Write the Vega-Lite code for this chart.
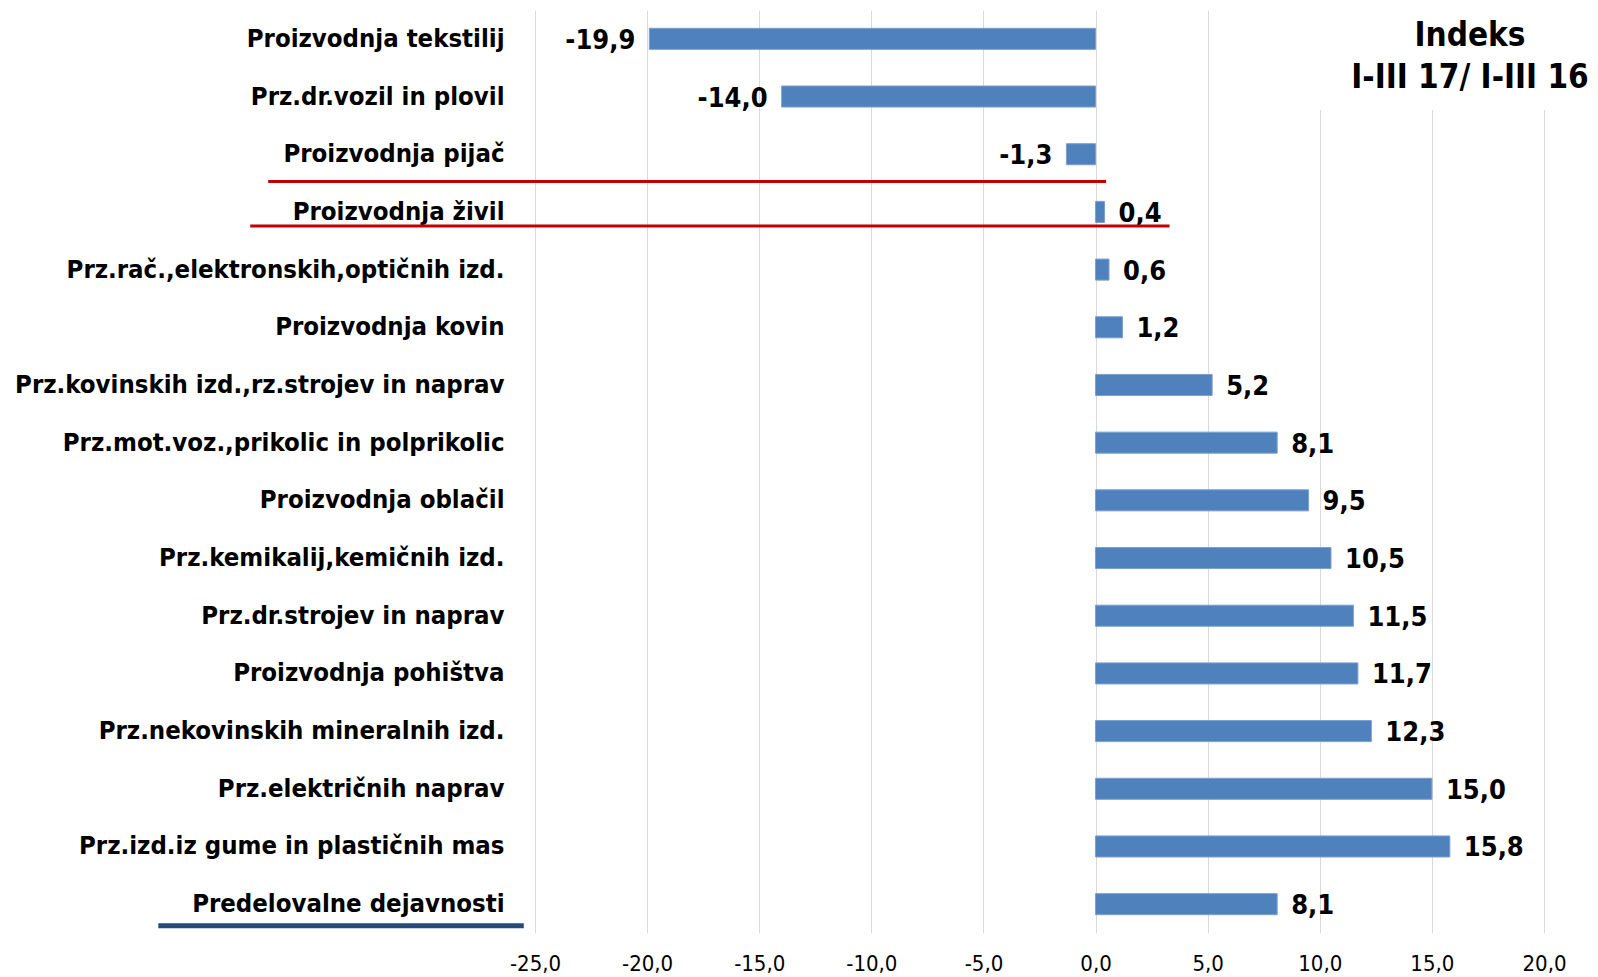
{
  "$schema": "https://vega.github.io/schema/vega-lite/v6.json",
  "width": 1009,
  "height": 923,
  "autosize": {"type": "none"},
  "padding": {"left": 535, "top": 10, "right": 54, "bottom": 44},
  "background": "white",
  "config": {
    "view": {"stroke": null},
    "font": "Liberation Sans Narrow, DejaVu Sans Condensed, Liberation Sans",
    "locale": {"number": {"decimal": ",", "thousands": ".", "grouping": [3], "currency": ["", " €"], "minus": "-"}}
  },
  "datasets": {
    "bars": [
      {"cat": "Proizvodnja tekstilij", "value": -19.9},
      {"cat": "Prz.dr.vozil in plovil", "value": -14.0},
      {"cat": "Proizvodnja pijač", "value": -1.3},
      {"cat": "Proizvodnja živil", "value": 0.4},
      {"cat": "Prz.rač.,elektronskih,optičnih izd.", "value": 0.6},
      {"cat": "Proizvodnja kovin", "value": 1.2},
      {"cat": "Prz.kovinskih izd.,rz.strojev in naprav", "value": 5.2},
      {"cat": "Prz.mot.voz.,prikolic in polprikolic", "value": 8.1},
      {"cat": "Proizvodnja oblačil", "value": 9.5},
      {"cat": "Prz.kemikalij,kemičnih izd.", "value": 10.5},
      {"cat": "Prz.dr.strojev in naprav", "value": 11.5},
      {"cat": "Proizvodnja pohištva", "value": 11.7},
      {"cat": "Prz.nekovinskih mineralnih izd.", "value": 12.3},
      {"cat": "Prz.električnih naprav", "value": 15.0},
      {"cat": "Prz.izd.iz gume in plastičnih mas", "value": 15.8},
      {"cat": "Predelovalne dejavnosti", "value": 8.1}
    ]
  },
  "layer": [
    {
      "data": {"name": "bars"},
      "mark": {"type": "bar", "color": "#4f81bd", "stroke": "#7a9fd0", "strokeWidth": 1},
      "encoding": {
        "y": {
          "field": "cat", "type": "nominal", "sort": null,
          "scale": {"paddingInner": 0.635, "paddingOuter": 0.3175},
          "axis": {"title": null, "domain": false, "ticks": false, "grid": false,
                   "labelFontSize": 25.5, "labelFontWeight": "bold", "labelColor": "#000000",
                   "labelPadding": 31, "labelLimit": 0, "labelFont": "Liberation Sans Narrow, DejaVu Sans Condensed, Liberation Sans"}
        },
        "x": {
          "field": "value", "type": "quantitative",
          "scale": {"domain": [-25, 20], "nice": false, "zero": false},
          "axis": {"title": null, "domain": false, "ticks": false, "grid": true,
                   "gridColor": "#d9d9d9", "gridWidth": 1, "values": [-25, -20, -15, -10, -5, 0, 5, 10, 15, 20],
                   "format": ".1f", "labelFontSize": 22, "labelColor": "#000000", "labelPadding": 20, "labelFlush": false,
                   "labelFont": "Liberation Sans Narrow, DejaVu Sans Condensed, Liberation Sans"}
        }
      }
    },
    {
      "data": {"name": "bars"},
      "transform": [{"filter": "datum.value >= 0"}],
      "mark": {"type": "text", "align": "left", "baseline": "middle", "dx": 14, "dy": 2, "fontSize": 27, "fontWeight": "bold", "color": "#000000"},
      "encoding": {
        "y": {"field": "cat", "type": "nominal", "sort": null},
        "x": {"field": "value", "type": "quantitative"},
        "text": {"field": "value", "type": "quantitative", "format": ".1f"}
      }
    },
    {
      "data": {"name": "bars"},
      "transform": [{"filter": "datum.value < 0"}],
      "mark": {"type": "text", "align": "right", "baseline": "middle", "dx": -14, "dy": 2, "fontSize": 27, "fontWeight": "bold", "color": "#000000"},
      "encoding": {
        "y": {"field": "cat", "type": "nominal", "sort": null},
        "x": {"field": "value", "type": "quantitative"},
        "text": {"field": "value", "type": "quantitative", "format": ".1f"}
      }
    },
    {
      "data": {"values": [{"c1": "Proizvodnja tekstilij", "c2": "Prz.dr.vozil in plovil", "x1": 7.5, "x2": 22}]},
      "mark": {"type": "rect", "color": "white"},
      "encoding": {
        "y": {"field": "c1", "type": "nominal", "sort": null, "bandPosition": -0.9},
        "y2": {"field": "c2", "bandPosition": 1.14},
        "x": {"field": "x1", "type": "quantitative"},
        "x2": {"field": "x2"}
      }
    },
    {
      "data": {"values": [{"c": "Proizvodnja tekstilij", "x": 16.7, "t": ["Indeks", "I-III 17/ I-III 16"]}]},
      "mark": {"type": "text", "align": "center", "baseline": "middle", "dy": 8, "fontSize": 33, "fontWeight": "bold", "lineHeight": 42, "color": "#000000"},
      "encoding": {
        "y": {"field": "c", "type": "nominal", "sort": null, "bandPosition": 0},
        "x": {"field": "x", "type": "quantitative"},
        "text": {"field": "t"}
      }
    },
    {
      "data": {"values": [{"c": "Proizvodnja pijač", "x1": -36.9, "x2": 0.47}]},
      "mark": {"type": "rule", "color": "#c00000", "strokeWidth": 3},
      "encoding": {
        "y": {"field": "c", "type": "nominal", "sort": null, "bandPosition": 1.8},
        "x": {"field": "x1", "type": "quantitative"},
        "x2": {"field": "x2"}
      }
    },
    {
      "data": {"values": [{"c": "Proizvodnja živil", "x1": -37.7, "x2": 3.3}]},
      "mark": {"type": "rule", "color": "#c00000", "strokeWidth": 3},
      "encoding": {
        "y": {"field": "c", "type": "nominal", "sort": null, "bandPosition": 1.17},
        "x": {"field": "x1", "type": "quantitative"},
        "x2": {"field": "x2"}
      }
    },
    {
      "data": {"values": [{"c": "Predelovalne dejavnosti", "x1": -41.8, "x2": -25.5}]},
      "mark": {"type": "rule", "color": "#254a7c", "strokeWidth": 5},
      "encoding": {
        "y": {"field": "c", "type": "nominal", "sort": null, "bandPosition": 1.53},
        "x": {"field": "x1", "type": "quantitative"},
        "x2": {"field": "x2"}
      }
    }
  ]
}
